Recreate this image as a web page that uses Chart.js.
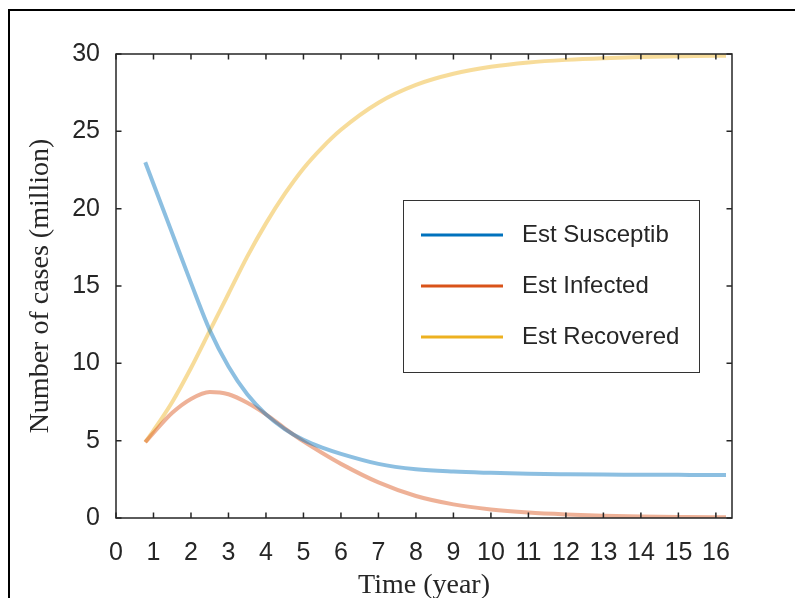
<!DOCTYPE html>
<html>
<head>
<meta charset="utf-8">
<title>Estimated SIR curves</title>
<script src="https://cdn.jsdelivr.net/npm/chart.js@4.4.0/dist/chart.umd.min.js"></script>
<style>
    html, body { margin: 0; padding: 0; background: #fff; }
    #wrap { width: 795px; height: 598px; }
</style>
</head>
<body>
<div id="wrap"><canvas id="sirChart" width="795" height="598"></canvas></div>
<script>
// Estimated values (million)
const years = [0.78, 1, 1.5, 2, 2.5, 3, 3.5, 4, 4.5, 5, 5.5, 6, 7, 8, 9, 10, 11, 12, 13, 14, 15, 16, 16.27];
const susceptible = [23.0, 21.6, 18.4, 15.2, 12.15, 9.8, 8.0, 6.7, 5.75, 5.05, 4.55, 4.15, 3.5, 3.15, 3.0, 2.92, 2.86, 2.83, 2.81, 2.8, 2.79, 2.78, 2.78];
const infected = [4.9, 5.5, 6.8, 7.7, 8.15, 8.0, 7.45, 6.7, 5.8, 4.95, 4.2, 3.5, 2.3, 1.42, 0.88, 0.55, 0.35, 0.23, 0.15, 0.1, 0.07, 0.05, 0.05];
const recovered = [4.9, 5.65, 7.5, 9.7, 12.1, 14.5, 16.9, 19.05, 20.95, 22.6, 23.95, 25.1, 26.85, 28.0, 28.72, 29.17, 29.45, 29.62, 29.73, 29.8, 29.85, 29.88, 29.88];

const seriesNames = ['Est Susceptib', 'Est Infected', 'Est Recovered'];
const xTicks = [0, 1, 2, 3, 4, 5, 6, 7, 8, 9, 10, 11, 12, 13, 14, 15, 16];
const yTicks = [0, 5, 10, 15, 20, 25, 30];

// MATLAB default colours, faded for the curves
const solidColors = ['#0072BD', '#D95319', '#EDB120'];
const fadedColors = ['rgba(0, 114, 189, 0.45)', 'rgba(217, 83, 25, 0.45)', 'rgba(237, 177, 32, 0.45)'];
const axisColor = '#262626';
const sansFont = '"Liberation Sans", Arial, sans-serif';
const serifFont = '"Liberation Serif", "Times New Roman", serif';

function toPoints(values) {
    return years.map((t, i) => ({ x: t, y: values[i] }));
}

// Outer figure frame (left and top edges are visible)
const framePlugin = {
    id: 'figureFrame',
    beforeDraw(chart) {
        const ctx = chart.ctx;
        ctx.save();
        ctx.fillStyle = '#fff';
        ctx.fillRect(0, 0, chart.width, chart.height);
        ctx.strokeStyle = '#000';
        ctx.lineWidth = 2;
        ctx.beginPath();
        ctx.moveTo(9, chart.height);
        ctx.lineTo(9, 10);
        ctx.lineTo(chart.width, 10);
        ctx.stroke();
        ctx.restore();
    }
};

// Box around the axes with inward tick marks on all four sides
const boxPlugin = {
    id: 'axesBox',
    afterDatasetsDraw(chart) {
        const { ctx, chartArea: a, scales: { x, y } } = chart;
        const len = 5.5;
        ctx.save();
        ctx.strokeStyle = axisColor;
        ctx.lineWidth = 1.5;
        ctx.strokeRect(a.left, a.top, a.width, a.height);
        ctx.beginPath();
        x.ticks.forEach(t => {
            const px = x.getPixelForValue(t.value);
            ctx.moveTo(px, a.bottom);
            ctx.lineTo(px, a.bottom - len);
            ctx.moveTo(px, a.top);
            ctx.lineTo(px, a.top + len);
        });
        y.ticks.forEach(t => {
            const py = y.getPixelForValue(t.value);
            ctx.moveTo(a.left, py);
            ctx.lineTo(a.left + len, py);
            ctx.moveTo(a.right, py);
            ctx.lineTo(a.right - len, py);
        });
        ctx.stroke();
        ctx.restore();
    }
};

// Legend box inside the axes
const legendPlugin = {
    id: 'boxLegend',
    afterDraw(chart) {
        const ctx = chart.ctx;
        const box = { left: 403, top: 200, width: 296, height: 172 };
        ctx.save();
        ctx.fillStyle = '#fff';
        ctx.fillRect(box.left, box.top, box.width, box.height);
        ctx.strokeStyle = '#333';
        ctx.lineWidth = 1;
        ctx.strokeRect(box.left + 0.5, box.top + 0.5, box.width, box.height);
        ctx.font = '24px ' + sansFont;
        ctx.textBaseline = 'middle';
        ctx.textAlign = 'left';
        chart.data.datasets.forEach((ds, i) => {
            const rowY = box.top + 35 + i * 51;
            ctx.strokeStyle = solidColors[i];
            ctx.lineWidth = 3;
            ctx.beginPath();
            ctx.moveTo(421, rowY);
            ctx.lineTo(503, rowY);
            ctx.stroke();
            ctx.fillStyle = axisColor;
            ctx.fillText(ds.label, 522, rowY);
        });
        ctx.restore();
    }
};

new Chart(document.getElementById('sirChart'), {
    type: 'line',
    data: {
        datasets: [susceptible, infected, recovered].map((values, i) => ({
            label: seriesNames[i],
            data: toPoints(values),
            borderColor: fadedColors[i],
            backgroundColor: fadedColors[i],
            borderWidth: 4,
            pointRadius: 0,
            fill: false,
            cubicInterpolationMode: 'monotone'
        }))
    },
    options: {
        responsive: false,
        animation: false,
        layout: {
            padding: { left: 0, right: 63, top: 54, bottom: 0 }
        },
        plugins: {
            legend: { display: false },
            tooltip: { enabled: false }
        },
        scales: {
            x: {
                type: 'linear',
                min: 0,
                max: 16.43,
                afterBuildTicks: scale => { scale.ticks = xTicks.map(v => ({ value: v })); },
                afterFit: scale => { scale.height = 80; },
                grid: { display: false, drawTicks: false },
                border: { display: false },
                ticks: {
                    padding: 20,
                    autoSkip: false,
                    maxRotation: 0,
                    color: axisColor,
                    font: { family: sansFont, size: 25 }
                },
                title: {
                    display: true,
                    text: 'Time (year)',
                    color: axisColor,
                    font: { family: serifFont, size: 28, lineHeight: 0.85 },
                    padding: { top: 0, bottom: 0 }
                }
            },
            y: {
                type: 'linear',
                min: 0,
                max: 30,
                afterBuildTicks: scale => { scale.ticks = yTicks.map(v => ({ value: v })); },
                afterFit: scale => { scale.width = 116; },
                grid: { display: false, drawTicks: false },
                border: { display: false },
                ticks: {
                    padding: 16,
                    color: axisColor,
                    font: { family: sansFont, size: 25 }
                },
                title: {
                    display: true,
                    text: 'Number of cases (million)',
                    color: axisColor,
                    font: { family: serifFont, size: 28 },
                    padding: { top: 24, bottom: 0 }
                }
            }
        }
    },
    plugins: [framePlugin, boxPlugin, legendPlugin]
});
</script>
</body>
</html>
